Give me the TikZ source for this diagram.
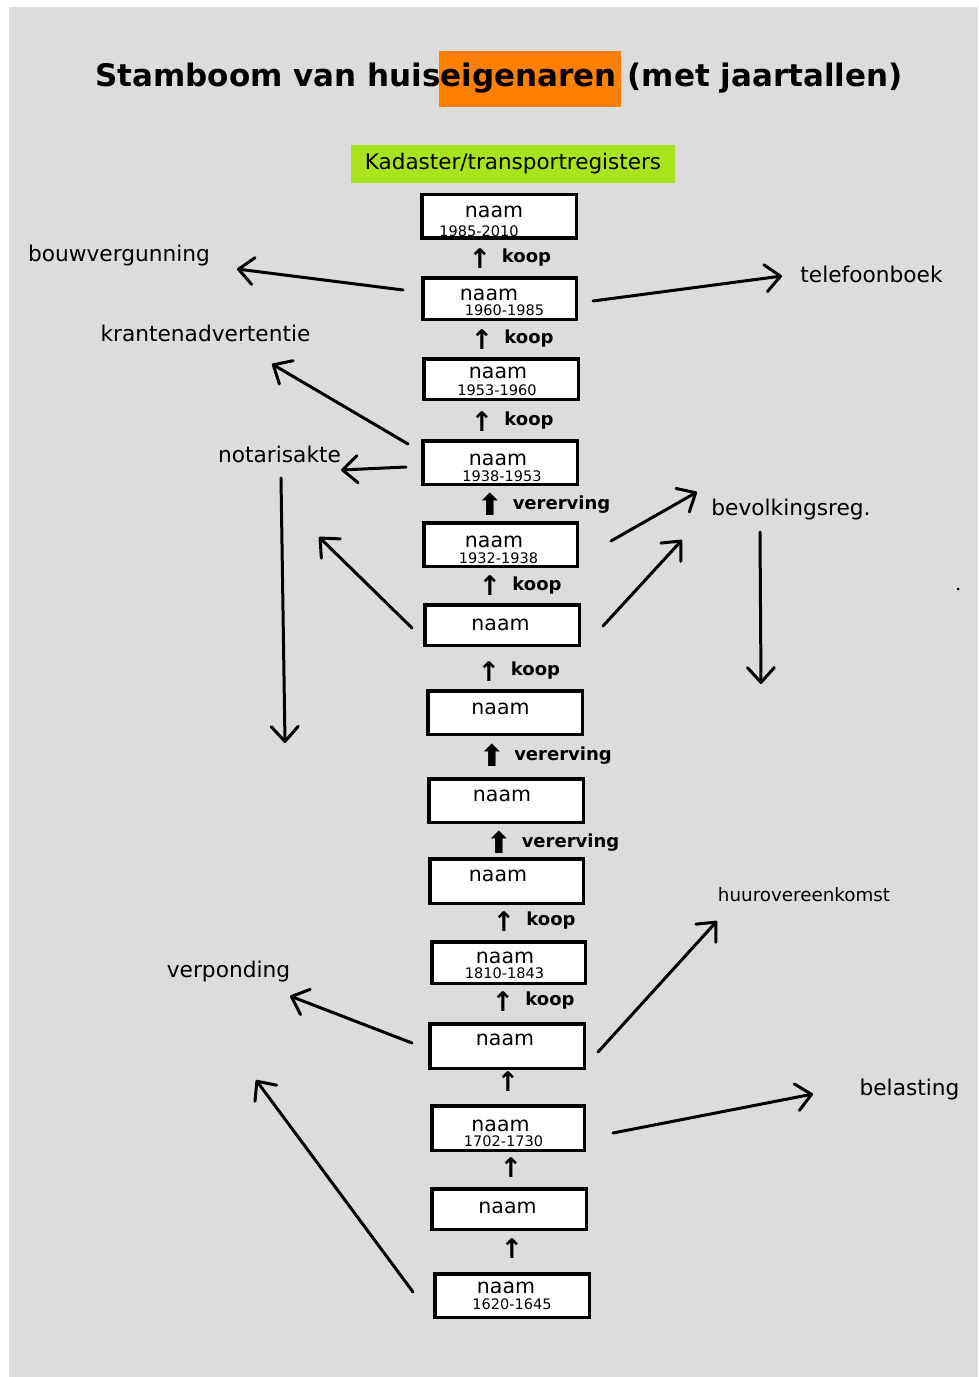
\documentclass[tikz,border=0pt]{standalone}
\usepackage{fontspec}
\setmainfont{DejaVu Sans}
\usetikzlibrary{arrows.meta}
\definecolor{bggray}{HTML}{DCDCDC}
\definecolor{orng}{HTML}{FF7F00}
\definecolor{lgreen}{HTML}{A8E31C}
\setlength{\fboxsep}{0pt}
\begin{document}
\begin{tikzpicture}[x=1bp,y=-1bp,
  box/.style={draw=black, line width=3.5bp, fill=white, inner sep=0},
  nm/.style={font=\fontsize{20.5bp}{24bp}\selectfont, inner sep=0},
  yr/.style={font=\fontsize{14.5bp}{17bp}\selectfont, inner sep=0},
  rel/.style={font=\bfseries\fontsize{18bp}{20bp}\selectfont, inner sep=0},
  uparrow/.style={font=\bfseries\fontsize{27bp}{30bp}\selectfont, inner sep=0},
  fatarrow/.style={font=\bfseries\fontsize{30bp}{32bp}\selectfont, inner sep=0},
  src/.style={font=\fontsize{21.7bp}{26bp}\selectfont, inner sep=0},
  conn/.style={line width=3bp, line cap=round,
    -{Straight Barb[length=15bp,width=27bp,line width=3bp,round]}}
]
\useasboundingbox (0,0) rectangle (978,1377);
\fill[white] (0,0) rectangle (978,1377);
\fill[bggray] (9,7) rectangle (978,1377);

% title
\node[font=\bfseries\fontsize{31bp}{36bp}\selectfont, inner sep=0, anchor=base] (title) at (499,87)
  {Stamboom van huis\kern-2bp\colorbox{orng}{\rule[-20bp]{0pt}{56bp}\kern2bp eigenaren\kern4bp}\kern-4bp{} (met jaartallen)};

% kadaster
\node[fill=lgreen, minimum width=324bp, minimum height=38bp, inner sep=0,
  font=\fontsize{21.5bp}{24bp}\selectfont] (kad) at (513,164) {Kadaster/transportregisters};

% boxes
\node[box, minimum width=154.5bp, minimum height=43.5bp] (b1) at (499,216.5) {};
\node[box, minimum width=153.5bp, minimum height=41.5bp] (b2) at (499.5,298.5) {};
\node[box, minimum width=154.5bp, minimum height=40.5bp] (b3) at (501,379) {};
\node[box, minimum width=154.5bp, minimum height=43.5bp] (b4) at (500,462.5) {};
\node[box, minimum width=153.5bp, minimum height=43.5bp] (b5) at (500.5,544.5) {};
\node[box, minimum width=154.5bp, minimum height=40.5bp] (b6) at (502,625) {};
\node[box, minimum width=154.5bp, minimum height=43.5bp] (b7) at (505,712.5) {};
\node[box, minimum width=154.5bp, minimum height=43.5bp] (b8) at (506,800.5) {};
\node[box, minimum width=153.5bp, minimum height=44.5bp] (b9) at (506.5,881) {};
\node[box, minimum width=153.5bp, minimum height=41.5bp] (b10) at (508.5,962.5) {};
\node[box, minimum width=154.5bp, minimum height=44.5bp] (b11) at (507,1046) {};
\node[box, minimum width=152.5bp, minimum height=44.5bp] (b12) at (508,1128) {};
\node[box, minimum width=154.5bp, minimum height=40.5bp] (b13) at (509,1209) {};
\node[box, minimum width=154.5bp, minimum height=43.5bp] (b14) at (512,1295.5) {};

% names
\node[nm] (n1) at (494,212) {naam};
\node[nm] (n2) at (489,294.5) {naam};
\node[nm] (n3) at (498,373) {naam};
\node[nm] (n4) at (498,460) {naam};
\node[nm] (n5) at (494,542) {naam};
\node[nm] (n6) at (500.5,624.5) {naam};
\node[nm] (n7) at (500.5,709) {naam};
\node[nm] (n8) at (502,795.5) {naam};
\node[nm] (n9) at (498,876) {naam};
\node[nm] (n10) at (505,957.5) {naam};
\node[nm] (n11) at (505,1039.5) {naam};
\node[nm] (n12) at (500.5,1125.5) {naam};
\node[nm] (n13) at (507.5,1207.5) {naam};
\node[nm] (n14) at (506,1287.5) {naam};

% years
\node[yr] (y1) at (479,231.5) {1985-2010};
\node[yr] (y2) at (504.5,310) {1960-1985};
\node[yr] (y3) at (497,390) {1953-1960};
\node[yr] (y4) at (502,476) {1938-1953};
\node[yr] (y5) at (498.5,558.5) {1932-1938};
\node[yr] (y10) at (504.5,973.5) {1810-1843};
\node[yr] (y12) at (503.5,1141.5) {1702-1730};
\node[yr] (y14) at (512,1304.5) {1620-1645};

% relation arrows and labels
\node[uparrow] (a1) at (480,258.5) {↑};
\node[rel] (r1) at (526.5,257.5) {koop};
\node[uparrow] (a2) at (482,339.5) {↑};
\node[rel] (r2) at (529,339) {koop};
\node[uparrow] (a3) at (482,422) {↑};
\node[rel] (r3) at (529,421) {koop};
\node[fatarrow] (a4) at (490,504) {⬆};
\node[rel] (r4) at (561.5,505) {vererving};
\node[uparrow] (a5) at (490,586) {↑};
\node[rel] (r5) at (537,586) {koop};
\node[uparrow] (a6) at (489,672) {↑};
\node[rel] (r6) at (535.5,671) {koop};
\node[fatarrow] (a7) at (492,755) {⬆};
\node[rel] (r7) at (563,756) {vererving};
\node[fatarrow] (a8) at (499,842) {⬆};
\node[rel] (r8) at (570.5,843) {vererving};
\node[uparrow] (a9) at (504,921.5) {↑};
\node[rel] (r9) at (551,921) {koop};
\node[uparrow] (a10) at (503,1002) {↑};
\node[rel] (r10) at (550,1001) {koop};
\node[uparrow] (a11) at (508,1082) {↑};
\node[uparrow] (a12) at (511,1168) {↑};
\node[uparrow] (a13) at (512,1248.5) {↑};

% source labels
\node[src] (bouw) at (119,255.5) {bouwvergunning};
\node[src] (krant) at (205.5,333) {krantenadvertentie};
\node[src] (notaris) at (279.5,454) {notarisakte};
\node[src] (tel) at (871.5,274.5) {telefoonboek};
\node[src] (bev) at (791,510) {bevolkingsreg.};
\node[font=\fontsize{18.3bp}{22bp}\selectfont, inner sep=0] (huur) at (804,894.5) {huurovereenkomst};
\node[src] (verp) at (228.5,971.5) {verponding};
\node[src] (bel) at (909.5,1090) {belasting};

% connector end points
\coordinate (c1s) at (403,290);   \coordinate (c1e) at (237,269);
\coordinate (c2s) at (408,444);   \coordinate (c2e) at (272,364);
\coordinate (c3s) at (406,467);   \coordinate (c3e) at (341,470);
\coordinate (c4s) at (281,478);   \coordinate (c4e) at (285,743);
\coordinate (c5s) at (412,628);   \coordinate (c5e) at (319,537);
\coordinate (c6s) at (593,301);   \coordinate (c6e) at (782,276);
\coordinate (c7s) at (611,541);   \coordinate (c7e) at (697,492);
\coordinate (c8s) at (603,626);   \coordinate (c8e) at (682,540);
\coordinate (c9s) at (760,532);   \coordinate (c9e) at (761,684);
\coordinate (c10s) at (412,1043); \coordinate (c10e) at (290,996);
\coordinate (c11s) at (413,1292); \coordinate (c11e) at (256,1080);
\coordinate (c12s) at (598,1052); \coordinate (c12e) at (717,921);
\coordinate (c13s) at (613,1133); \coordinate (c13e) at (813,1094);

\draw[conn] (c1s) -- (c1e);
\draw[conn] (c2s) -- (c2e);
\draw[conn] (c3s) -- (c3e);
\draw[conn] (c4s) -- (c4e);
\draw[conn] (c5s) -- (c5e);
\draw[conn] (c6s) -- (c6e);
\draw[conn] (c7s) -- (c7e);
\draw[conn] (c8s) -- (c8e);
\draw[conn] (c9s) -- (c9e);
\draw[conn] (c10s) -- (c10e);
\draw[conn] (c11s) -- (c11e);
\draw[conn] (c12s) -- (c12e);
\draw[conn] (c13s) -- (c13e);

\fill (958,589) circle (1.5bp);
\end{tikzpicture}
\end{document}
